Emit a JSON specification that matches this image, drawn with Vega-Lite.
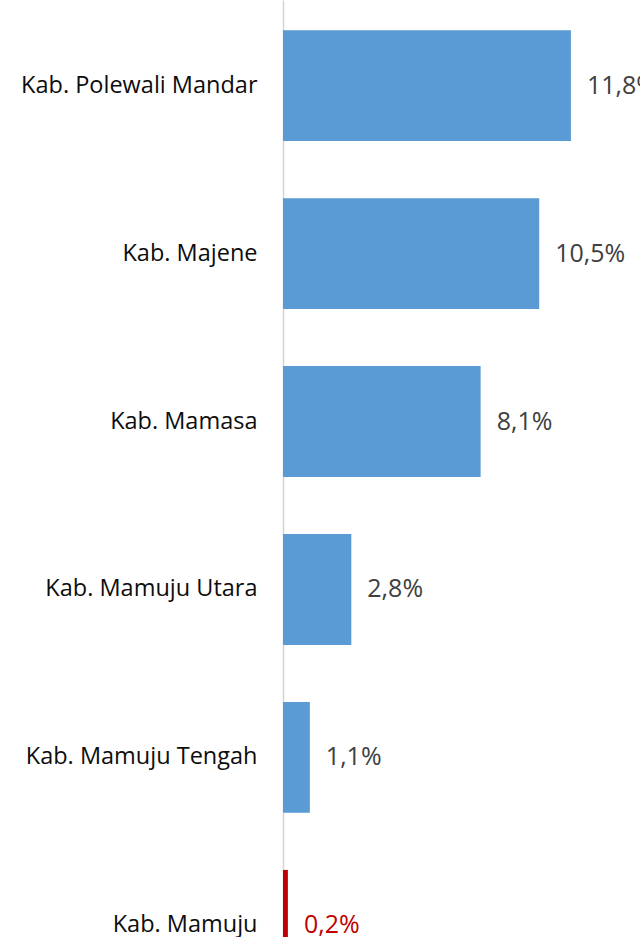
{
  "$schema": "https://vega.github.io/schema/vega-lite/v6.json",
  "width": 366,
  "height": 1011,
  "autosize": {"type": "none"},
  "padding": {"left": 283, "top": 0, "right": 0, "bottom": 0},
  "config": {
    "view": {"stroke": null},
    "locale": {"number": {"decimal": ",", "thousands": ".", "grouping": [3], "currency": ["", ""]}}
  },
  "data": {
    "values": [
      {"kabupaten": "Kab. Polewali Mandar", "nilai": 0.118},
      {"kabupaten": "Kab. Majene", "nilai": 0.105},
      {"kabupaten": "Kab. Mamasa", "nilai": 0.081},
      {"kabupaten": "Kab. Mamuju Utara", "nilai": 0.028},
      {"kabupaten": "Kab. Mamuju Tengah", "nilai": 0.011},
      {"kabupaten": "Kab. Mamuju", "nilai": 0.002}
    ]
  },
  "encoding": {
    "y": {
      "field": "kabupaten",
      "type": "nominal",
      "sort": null,
      "scale": {"paddingInner": 0.34, "paddingOuter": 0.18},
      "axis": {
        "title": null,
        "ticks": false,
        "labelPadding": 26,
        "labelFont": "Open Sans",
        "labelFontSize": 23.5,
        "labelColor": "#0d0d0d",
        "labelLimit": 400,
        "domainColor": "#D4D4D4",
        "domainWidth": 1.5
      }
    },
    "x": {
      "field": "nilai",
      "type": "quantitative",
      "scale": {"domain": [0, 0.15]},
      "axis": null
    }
  },
  "layer": [
    {
      "mark": {"type": "bar"},
      "encoding": {
        "color": {
          "condition": {"test": "datum.kabupaten === 'Kab. Mamuju'", "value": "#C00000"},
          "value": "#5B9BD5"
        }
      }
    },
    {
      "mark": {"type": "text", "align": "left", "baseline": "middle", "dx": 16, "font": "Open Sans", "fontSize": 25},
      "encoding": {
        "text": {"field": "nilai", "type": "quantitative", "format": ".1%"},
        "color": {
          "condition": {"test": "datum.kabupaten === 'Kab. Mamuju'", "value": "#C00000"},
          "value": "#404040"
        }
      }
    }
  ]
}
